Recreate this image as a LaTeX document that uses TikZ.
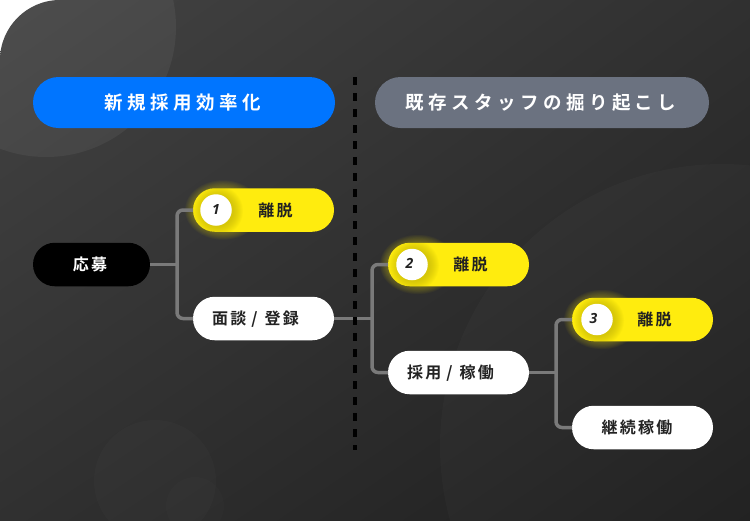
\documentclass[tikz,border=0pt]{standalone}
\usepackage{fontspec}
\usetikzlibrary{shapes.misc,shadings}
\newfontfamily\jpbold[LetterSpace=14]{Noto Sans CJK JP Bold}
\newfontfamily\jphead[LetterSpace=24]{Noto Sans CJK JP Bold}
\newfontfamily\numfont{Open Sans}
\definecolor{bluepill}{HTML}{0075FF}
\definecolor{graypill}{HTML}{6B7280}
\definecolor{yellowpill}{HTML}{FFEC0E}
\definecolor{ink}{HTML}{222222}
\definecolor{linegray}{HTML}{7A7A7A}
\definecolor{bgtl}{HTML}{434343}
\definecolor{bgtr}{HTML}{303030}
\definecolor{bgbl}{HTML}{303030}
\definecolor{bgbr}{HTML}{1E1E1E}
\tikzset{
  pill/.style={rounded rectangle,minimum height=43.5pt,minimum width=141pt,inner sep=0pt,outer sep=0pt,font=\jpbold\fontsize{16pt}{16pt}\selectfont},
  headpill/.style={rounded rectangle,minimum height=51pt,inner sep=0pt,outer sep=0pt,fill=#1,text=white,font=\jphead\fontsize{18.5pt}{18.5pt}\selectfont},
  whitepill/.style={pill,fill=white,text=ink},
  yellowbox/.style={pill,fill=yellowpill,text=ink},
  blackpill/.style={pill,fill=black,text=white,minimum width=117pt},
  numdot/.style={circle,fill=white,text=ink,minimum size=31.5pt,inner sep=0pt,font=\numfont\bfseries\itshape\fontsize{14pt}{14pt}\selectfont},
  conn/.style={draw=linegray,line width=3.5pt,rounded corners=6pt},
  splitline/.style={draw=black,line width=4pt,dash pattern=on 8pt off 8pt},
  deco/.style={fill=white,fill opacity=#1},
}
\newcommand{\slashmark}{\hspace{5pt}\smash{/}\hspace{7pt}}
\newcommand{\glowat}[2]{%
  \foreach \g in {1,2,...,10}{
    \fill[yellowpill,opacity=0.035] (#1+30,#2) ellipse ({30+0.8*\g} and {21.75+0.8*\g});
  }}
\newcommand{\dotshade}[3]{% cx cy, clip pill left x
  \begin{scope}
    \clip[rounded corners=21pt] (#3,#2-21.75) rectangle (#3+141,#2+21.75);
    \foreach \g in {1,2,...,10}{
      \fill[black!35!yellowpill,opacity=0.05] (#1+2,#2+1) circle (15+\g);
    }
  \end{scope}}
\begin{document}
\begin{tikzpicture}[x=1pt,y=-1pt]
\useasboundingbox (0,0) rectangle (750,520);
\fill[white] (0,0) rectangle (750,520);
\begin{scope}
  \clip (0,60) .. controls (0,27) and (27,0) .. (60,0) -- (753,0) -- (753,523) -- (0,523) -- cycle;
  \shade[shading=bilinear interpolation,upper left=bgtl,upper right=bgtr,lower left=bgbl,lower right=bgbr] (0,0) rectangle (753,523);
  \fill[deco=0.055] (46,27) circle (130);
  \fill[deco=0.018] (722,446) circle (282);
  \fill[deco=0.014] (155,481) circle (61);
  \fill[deco=0.012] (195,506) circle (29);
\end{scope}
\glowat{193}{210}
\glowat{388}{264.5}
\glowat{572}{319.5}
\coordinate (j1) at (177,264.5);
\coordinate (j2) at (372,318.5);
\coordinate (j3) at (556,372.5);
\node[headpill=bluepill,minimum width=302pt] (hleft) at (184,102.5) {新規採用効率化\kern3pt};
\node[headpill=graypill,minimum width=334pt] (hright) at (542,102.5) {既存スタッフの掘り起こし\kern2pt};
\node[blackpill] (apply) at (91.5,264.5) {応募\kern3pt};
\node[yellowbox] (drop1) at (263.5,210) {\hspace{24pt}離脱};
\node[whitepill] (meet) at (263.5,318.5) {面談\slashmark 登録\kern16pt};
\node[yellowbox] (drop2) at (458.5,264.5) {\hspace{24pt}離脱};
\node[whitepill] (hire) at (458.5,372.5) {採用\slashmark 稼働\kern16pt};
\node[yellowbox] (drop3) at (642.5,319.5) {\hspace{24pt}離脱};
\node[whitepill] (keep) at (642.5,427.5) {継続稼働\kern11pt};
\dotshade{216}{210}{193}
\dotshade{412}{264.5}{388}
\dotshade{597}{319.5}{572}
\node[numdot] (n1) at (216,210) {\raisebox{2pt}{1}};
\node[numdot] (n2) at (412,264.5) {\raisebox{2pt}{2}\kern5pt};
\node[numdot] (n3) at (597,319.5) {\raisebox{2pt}{3}\kern7pt};
\draw[conn] (apply.east) -- (j1);
\draw[conn] (drop1.west) -| (j1) |- (meet.west);
\draw[conn] (meet.east) -- (j2);
\draw[conn] (drop2.west) -| (j2) |- (hire.west);
\draw[conn] (hire.east) -- (j3);
\draw[conn] (drop3.west) -| (j3) |- (keep.west);
\coordinate (cut1) at (355,77);
\coordinate (cut2) at (355,450);
\draw[splitline] (cut1) -- (cut2);
\end{tikzpicture}
\end{document}
